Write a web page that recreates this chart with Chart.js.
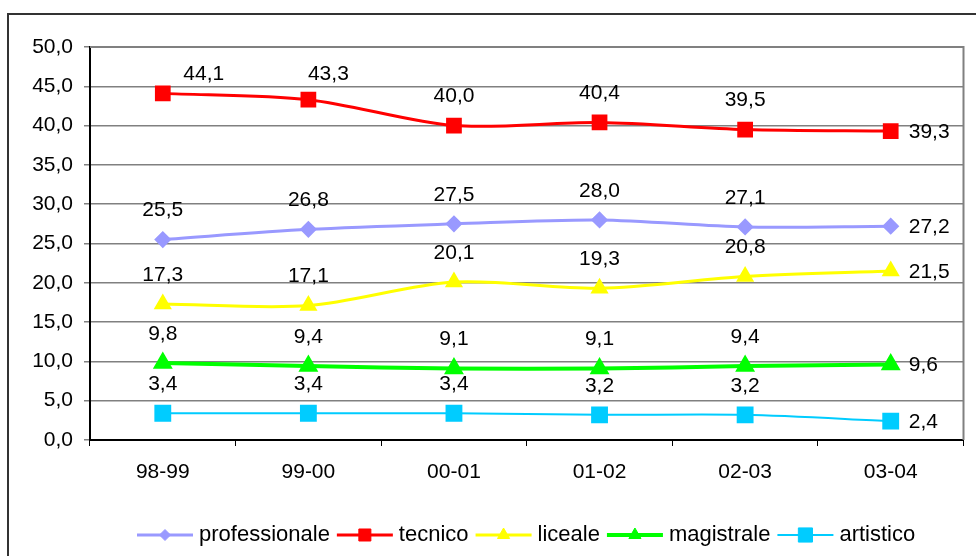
<!DOCTYPE html>
<html>
<head>
<meta charset="utf-8">
<script src="https://cdn.jsdelivr.net/npm/chart.js@4.4.0/dist/chart.umd.min.js"></script>
<style>
  html, body { margin: 0; padding: 0; background: #fff; }
  #wrap { width: 976px; height: 556px; }
</style>
</head>
<body>
<div id="wrap"><canvas id="chart" width="976" height="556"></canvas></div>
<script>
// dati
const anni = ['98-99', '99-00', '00-01', '01-02', '02-03', '03-04'];
const professionale = [25.5, 26.8, 27.5, 28.0, 27.1, 27.2];
const tecnico = [44.1, 43.3, 40.0, 40.4, 39.5, 39.3];
const liceale = [17.3, 17.1, 20.1, 19.3, 20.8, 21.5];
const magistrale = [9.8, 9.4, 9.1, 9.1, 9.4, 9.6];
const artistico = [3.4, 3.4, 3.4, 3.2, 3.2, 2.4];
const yTicks = [0, 5, 10, 15, 20, 25, 30, 35, 40, 45, 50];

const FONT = '"Liberation Sans", Arial, sans-serif';
const FSIZE = 21;
const fmt = v => v.toFixed(1).replace('.', ',');

// etichette dei valori sopra i punti
const valueLabels = {
    id: 'valueLabels',
    afterDatasetsDraw(chart) {
        const ctx = chart.ctx;
        ctx.save();
        ctx.font = FSIZE + 'px ' + FONT;
        ctx.fillStyle = '#000';
        ctx.textBaseline = 'middle';
        chart.data.datasets.forEach((ds, i) => {
            const meta = chart.getDatasetMeta(i);
            meta.data.forEach((pt, j) => {
                const last = j === meta.data.length - 1;
                let x = pt.x, y = pt.y - 29;
                if (last) {
                    ctx.textAlign = 'left';
                    x = pt.x + 18;
                    y = pt.y + 1;
                } else {
                    ctx.textAlign = 'center';
                    // le prime due etichette del tecnico sono spostate a destra
                    if (ds.label === 'tecnico' && j === 0) { x += 41; y = pt.y - 19; }
                    if (ds.label === 'tecnico' && j === 1) { x += 20; y = pt.y - 25; }
                }
                ctx.fillText(fmt(ds.data[j]), x, y);
            });
        });
        ctx.restore();
    }
};

// cornice esterna e bordo dell'area del grafico
const frame = {
    id: 'frame',
    beforeDraw(chart) {
        const ctx = chart.ctx;
        ctx.save();
        ctx.strokeStyle = '#333';
        ctx.lineWidth = 2;
        ctx.beginPath();
        ctx.moveTo(8, 560);
        ctx.lineTo(8, 14);
        ctx.lineTo(980, 14);
        ctx.stroke();
        ctx.restore();
    },
    afterDraw(chart) {
        const ctx = chart.ctx;
        const a = chart.chartArea;
        ctx.save();
        ctx.strokeStyle = '#808080';
        ctx.lineWidth = 2;
        ctx.beginPath();
        ctx.moveTo(a.left, a.top);
        ctx.lineTo(a.right, a.top);
        ctx.lineTo(a.right, a.bottom);
        ctx.stroke();
        ctx.restore();
    }
};

// legenda in basso, stile Excel
const excelLegend = {
    id: 'excelLegend',
    afterDraw(chart) {
        const ctx = chart.ctx;
        ctx.save();
        ctx.font = '22px ' + FONT;
        ctx.textBaseline = 'middle';
        ctx.textAlign = 'left';
        let x = 137;
        const y = 535;
        chart.data.datasets.forEach(ds => {
            ctx.strokeStyle = ds.borderColor;
            ctx.fillStyle = ds.borderColor;
            ctx.lineWidth = ds.borderWidth;
            ctx.beginPath();
            ctx.moveTo(x, y);
            ctx.lineTo(x + 56, y);
            ctx.stroke();
            ctx.lineWidth = 1;
            Chart.helpers.drawPoint(ctx, {
                pointStyle: ds.pointStyle,
                radius: ds.pointStyle === 'rectRot' ? 5.5 : ds.pointRadius - 0.5,
                rotation: 0,
                borderWidth: 1
            }, x + 28, y);
            ctx.fillStyle = '#000';
            ctx.fillText(ds.label, x + 62, y);
            x += 62 + ctx.measureText(ds.label).width + 7;
        });
        ctx.restore();
    }
};

function serie(label, data, color, style, radius, width) {
    return {
        label: label,
        data: data,
        borderColor: color,
        backgroundColor: color,
        pointBackgroundColor: color,
        pointBorderColor: color,
        pointStyle: style,
        pointRadius: radius,
        pointHoverRadius: radius,
        borderWidth: width,
        tension: 0.3,
        fill: false
    };
}

new Chart(document.getElementById('chart'), {
    type: 'line',
    data: {
        labels: anni,
        datasets: [
            serie('professionale', professionale, '#9999FF', 'rectRot', 6.5, 3),
            serie('tecnico', tecnico, '#FF0000', 'rect', 9, 3),
            serie('liceale', liceale, '#FFFF00', 'triangle', 7.5, 3),
            serie('magistrale', magistrale, '#00FF00', 'triangle', 7.5, 4),
            serie('artistico', artistico, '#00CCFF', 'rect', 10.5, 2)
        ]
    },
    options: {
        responsive: false,
        animation: false,
        layout: { padding: { top: 47, right: 10, left: 0, bottom: 0 } },
        plugins: {
            legend: { display: false },
            tooltip: { enabled: false }
        },
        scales: {
            x: {
                offset: true,
                grid: {
                    display: true,
                    drawOnChartArea: false,
                    offset: true,
                    color: '#000',
                    tickLength: 6
                },
                border: { color: '#000', width: 2 },
                ticks: { font: { family: FONT, size: FSIZE }, color: '#000', padding: 14 },
                afterFit(s) { s.height = 116; }
            },
            y: {
                min: 0,
                max: 50,
                afterBuildTicks(s) { s.ticks = yTicks.map(v => ({ value: v })); },
                grid: { color: '#808080', lineWidth: 1.5, tickLength: 6 },
                border: { color: '#000', width: 2 },
                ticks: {
                    font: { family: FONT, size: FSIZE },
                    color: '#000',
                    padding: 11,
                    callback: v => fmt(v)
                },
                afterFit(s) { s.width = 90; }
            }
        }
    },
    plugins: [frame, valueLabels, excelLegend]
});
</script>
</body>
</html>
